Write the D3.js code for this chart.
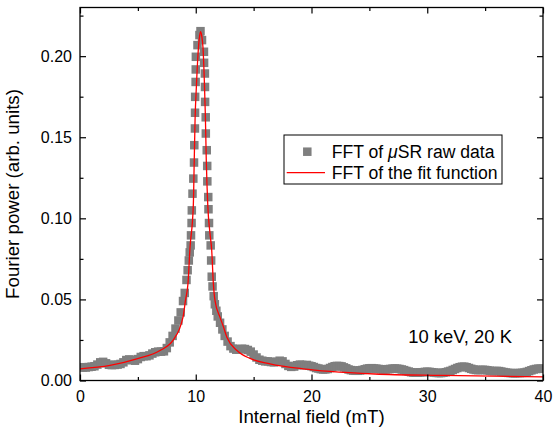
<!DOCTYPE html>
<html>
<head>
<meta charset="utf-8">
<script src="https://cdn.jsdelivr.net/npm/d3@7"></script>
<style>
  html, body { margin: 0; padding: 0; background: #fff; }
  svg { display: block; }
  text { font-family: "Liberation Sans", Arial, Helvetica, sans-serif; fill: #000; }
</style>
</head>
<body>
<svg id="chart" width="555" height="437"></svg>
<script>
// ---------------- data ----------------
// FFT of muSR raw data: internal field (mT)
const rawX = [
  0, 0.25, 0.5, 0.75, 1.0, 1.25, 1.5, 1.75, 2.0, 2.25, 2.5, 2.75, 3.0, 3.25, 3.5, 3.75,
  4.0, 4.25, 4.5, 4.75, 5.0, 5.25, 5.5, 5.75, 6.0, 6.25, 6.5, 6.75, 7.0, 7.25, 7.5, 7.75,
  8.0, 8.25, 8.5, 8.7, 8.9, 9.05, 9.2, 9.3, 9.4, 9.48,
  9.56, 9.59, 9.64, 9.66, 9.72, 9.79, 9.85, 9.875, 9.93, 9.94, 9.95, 9.99, 10.0, 10.01,
  10.15, 10.32, 10.41, 10.54, 10.71, 10.72, 10.79, 10.80, 10.81, 10.86, 10.87, 10.95,
  10.99, 11.0, 11.08, 11.10, 11.145, 11.17, 11.29,
  11.33, 11.38, 11.45, 11.55, 11.65, 11.78, 11.9, 12.1, 12.3, 12.5, 12.75, 13.0, 13.25,
  13.5, 13.75, 14.0, 14.25, 14.5, 14.75, 15.0, 15.25, 15.5, 15.75, 16.0, 16.25, 16.5,
  16.75, 17.0, 17.25, 17.5, 17.75, 18.0, 18.25, 18.5, 18.75, 19.0,
  19.2, 19.4, 19.6, 19.8, 20.0, 20.2, 20.4, 20.6, 20.8, 21.0, 21.2, 21.4, 21.6, 21.8,
  22.0, 22.2, 22.4, 22.6, 22.8, 23.0, 23.2, 23.4, 23.6, 23.8, 24.0, 24.2, 24.4, 24.6,
  24.8, 25.0, 25.2, 25.4, 25.6, 25.8, 26.0, 26.2, 26.4, 26.6, 26.8, 27.0, 27.2, 27.4,
  27.6, 27.8, 28.0, 28.2, 28.4, 28.6, 28.8, 29.0, 29.2, 29.4, 29.6, 29.8, 30.0, 30.2,
  30.4, 30.6, 30.8, 31.0, 31.2, 31.4, 31.6, 31.8, 32.0, 32.2, 32.4, 32.6, 32.8, 33.0,
  33.2, 33.4, 33.6, 33.8, 34.0, 34.2, 34.4, 34.6, 34.8, 35.0, 35.2, 35.4, 35.6, 35.8,
  36.0, 36.2, 36.4, 36.6, 36.8, 37.0, 37.2, 37.4, 37.6, 37.8, 38.0, 38.2, 38.4, 38.6,
  38.8, 39.0, 39.2, 39.4, 39.6, 39.8, 40.0
];
// FFT of muSR raw data: Fourier power (arb. units)
const rawY = [
  0.0082, 0.0080, 0.0080, 0.0083, 0.0085, 0.0088, 0.0098, 0.0112, 0.0115, 0.0106, 0.0097, 0.0095, 0.0096, 0.0098, 0.0102, 0.0112,
  0.0126, 0.0130, 0.0126, 0.0122, 0.0132, 0.0145, 0.0150, 0.0150, 0.0155, 0.0166, 0.0174, 0.0178, 0.0178, 0.0180, 0.0200, 0.0235,
  0.0275, 0.0320, 0.0370, 0.0420, 0.0490, 0.0540, 0.0620, 0.0680, 0.0740, 0.0790,
  0.0833, 0.0895, 0.0971, 0.1049, 0.1152, 0.1245, 0.1344, 0.1451, 0.1554, 0.1651, 0.1749, 0.1841, 0.1918, 0.1996,
  0.2068, 0.2130, 0.2154, 0.2099, 0.2027, 0.1959, 0.1893, 0.1810, 0.1718, 0.1623, 0.1523, 0.1420,
  0.1323, 0.1228, 0.1131, 0.1056, 0.0971, 0.0895, 0.0833,
  0.0740, 0.0640, 0.0580, 0.0520, 0.0470, 0.0430, 0.0395, 0.0356, 0.0315, 0.0275, 0.0240, 0.0212, 0.0197,
  0.0190, 0.0192, 0.0196, 0.0194, 0.0188, 0.0178, 0.0160, 0.0142, 0.0128, 0.0122, 0.0118, 0.0118, 0.0114,
  0.0112, 0.0116, 0.0122, 0.0118, 0.0102, 0.0090, 0.0084, 0.0086, 0.0094, 0.0098,
  0.0096, 0.0094, 0.0096, 0.0091, 0.0088, 0.0083, 0.0077, 0.0074, 0.0070, 0.0068, 0.0069, 0.0071, 0.0077, 0.0083,
  0.0088, 0.0090, 0.0089, 0.0087, 0.0081, 0.0075, 0.0068, 0.0064, 0.0061, 0.0060, 0.0060, 0.0062, 0.0065, 0.0069,
  0.0073, 0.0075, 0.0076, 0.0074, 0.0073, 0.0071, 0.0069, 0.0068, 0.0068, 0.0070, 0.0071, 0.0073, 0.0074, 0.0073,
  0.0071, 0.0068, 0.0064, 0.0059, 0.0055, 0.0051, 0.0049, 0.0048, 0.0048, 0.0050, 0.0051, 0.0053, 0.0054, 0.0053,
  0.0051, 0.0049, 0.0047, 0.0046, 0.0046, 0.0048, 0.0051, 0.0055, 0.0059, 0.0065, 0.0071, 0.0077, 0.0082, 0.0085,
  0.0085, 0.0082, 0.0077, 0.0072, 0.0068, 0.0065, 0.0064, 0.0065, 0.0066, 0.0065, 0.0063, 0.0060, 0.0058, 0.0058,
  0.0059, 0.0058, 0.0055, 0.0052, 0.0049, 0.0047, 0.0046, 0.0045, 0.0045, 0.0046, 0.0046, 0.0047, 0.0049, 0.0053,
  0.0058, 0.0063, 0.0068, 0.0071, 0.0073, 0.0073, 0.0072
];
// FFT of the fit function
const fitX = [
  0, 2.59, 4.90, 6.91, 8.03, 8.90, 9.11, 9.33, 9.50, 9.79, 9.87, 9.94, 10.06, 10.19, 10.31,
  10.41, 10.52, 10.63, 10.74, 10.83, 10.91, 11.04, 11.23, 11.38, 11.52, 11.66, 12.10, 12.35,
  12.70, 13.56, 14.69, 16.41, 19.27, 21.60, 25.49, 31.27, 40.0
];
const fitY = [
  0.0072, 0.0093, 0.0134, 0.0185, 0.0247, 0.0391, 0.0494, 0.0599, 0.0815, 0.1080, 0.1358, 0.1605, 0.1821, 0.2006, 0.2111,
  0.2151, 0.2123, 0.2049, 0.1852, 0.1636, 0.1358, 0.1080, 0.0907, 0.0802, 0.0599, 0.0494, 0.0389, 0.0340,
  0.0265, 0.0185, 0.0136, 0.0103, 0.0072, 0.0056, 0.0040, 0.0031, 0.0022
];
const xMajor = [0, 10, 20, 30, 40];
const xMinor = [5, 15, 25, 35];
const yMajor = [0.00, 0.05, 0.10, 0.15, 0.20];
const yMinor = [0.025, 0.075, 0.125, 0.175, 0.225];
const xTitle = "Internal field (mT)";
const yTitle = "Fourier power (arb. units)";
const annotation = "10 keV, 20 K";

// ---------------- layout ----------------
const svg = d3.select("#chart");
const L = 80, R = 543, T = 7.5, B = 380.5;
const x = d3.scaleLinear().domain([0, 40]).range([L, R]);
const y = d3.scaleLinear().domain([0, 0.23]).range([B, T]);

svg.append("defs").append("clipPath").attr("id", "plotclip")
  .append("rect").attr("x", L).attr("y", T).attr("width", R - L).attr("height", B - T);

// data squares
const sq = 8.5;
const raw = rawX.map((v, i) => ({ x: v, y: rawY[i] }));
svg.append("g").attr("clip-path", "url(#plotclip)")
  .selectAll("rect").data(raw).join("rect")
  .attr("x", d => x(d.x) - sq / 2)
  .attr("y", d => y(d.y) - sq / 2)
  .attr("width", sq).attr("height", sq)
  .attr("fill", "#7f7f7f");

// fit line
const fit = fitX.map((v, i) => ({ x: v, y: fitY[i] }));
svg.append("path").datum(fit)
  .attr("clip-path", "url(#plotclip)")
  .attr("fill", "none").attr("stroke", "#ff0000").attr("stroke-width", 1.3)
  .attr("d", d3.line().x(d => x(d.x)).y(d => y(d.y)).curve(d3.curveMonotoneX));

// axes
function styleAxis(g) {
  g.select(".domain").remove();
  g.selectAll(".tick line").attr("stroke", "#000").attr("stroke-width", 1.2);
  g.selectAll(".tick text").attr("font-size", 16).attr("font-family", "Liberation Sans, Arial, sans-serif");
}
const fmtY = d3.format(".2f");
svg.append("g").attr("transform", `translate(0,${B})`)
  .call(d3.axisBottom(x).tickValues(xMajor).tickSize(-6).tickPadding(10).tickFormat(d3.format("d")))
  .call(styleAxis);
svg.append("g").attr("transform", `translate(0,${B})`)
  .call(d3.axisBottom(x).tickValues(xMinor).tickSize(-3.5).tickFormat(""))
  .call(styleAxis);
svg.append("g").attr("transform", `translate(0,${T})`)
  .call(d3.axisTop(x).tickValues(xMajor).tickSize(-6).tickFormat(""))
  .call(styleAxis);
svg.append("g").attr("transform", `translate(0,${T})`)
  .call(d3.axisTop(x).tickValues(xMinor).tickSize(-3.5).tickFormat(""))
  .call(styleAxis);
svg.append("g").attr("transform", `translate(${L},0)`)
  .call(d3.axisLeft(y).tickValues(yMajor).tickSize(-6).tickPadding(8).tickFormat(fmtY))
  .call(styleAxis);
svg.append("g").attr("transform", `translate(${L},0)`)
  .call(d3.axisLeft(y).tickValues(yMinor).tickSize(-3.5).tickFormat(""))
  .call(styleAxis);
svg.append("g").attr("transform", `translate(${R},0)`)
  .call(d3.axisRight(y).tickValues(yMajor).tickSize(-6).tickFormat(""))
  .call(styleAxis);
svg.append("g").attr("transform", `translate(${R},0)`)
  .call(d3.axisRight(y).tickValues(yMinor).tickSize(-3.5).tickFormat(""))
  .call(styleAxis);

// frame
svg.append("rect").attr("x", L).attr("y", T).attr("width", R - L).attr("height", B - T)
  .attr("fill", "none").attr("stroke", "#000").attr("stroke-width", 1.3);

// axis titles
svg.append("text").attr("x", (L + R) / 2).attr("y", 423)
  .attr("text-anchor", "middle").attr("font-size", 18.7).text(xTitle);
svg.append("text").attr("transform", `translate(18.5,${(T + B) / 2}) rotate(-90)`)
  .attr("text-anchor", "middle").attr("font-size", 18.7).text(yTitle);

// annotation
svg.append("text").attr("x", 408.3).attr("y", 342.5).attr("font-size", 18.4).text(annotation);

// legend
const lg = svg.append("g");
lg.append("rect").attr("x", 284).attr("y", 135).attr("width", 218).attr("height", 49)
  .attr("fill", "#fff").attr("stroke", "#000").attr("stroke-width", 1);
lg.append("rect").attr("x", 307.3 - sq / 2).attr("y", 151.7 - sq / 2).attr("width", sq).attr("height", sq)
  .attr("fill", "#7f7f7f");
const t1 = lg.append("text").attr("x", 331.7).attr("y", 157.5).attr("font-size", 17.6);
t1.append("tspan").text("FFT of ");
t1.append("tspan").attr("font-style", "italic").text("\u03BC");
t1.append("tspan").text("SR raw data");
lg.append("line").attr("x1", 286.7).attr("x2", 325).attr("y1", 172.7).attr("y2", 172.7)
  .attr("stroke", "#ff0000").attr("stroke-width", 1.3);
lg.append("text").attr("x", 331.7).attr("y", 178.5).attr("font-size", 17.6).text("FFT of the fit function");
</script>
</body>
</html>
